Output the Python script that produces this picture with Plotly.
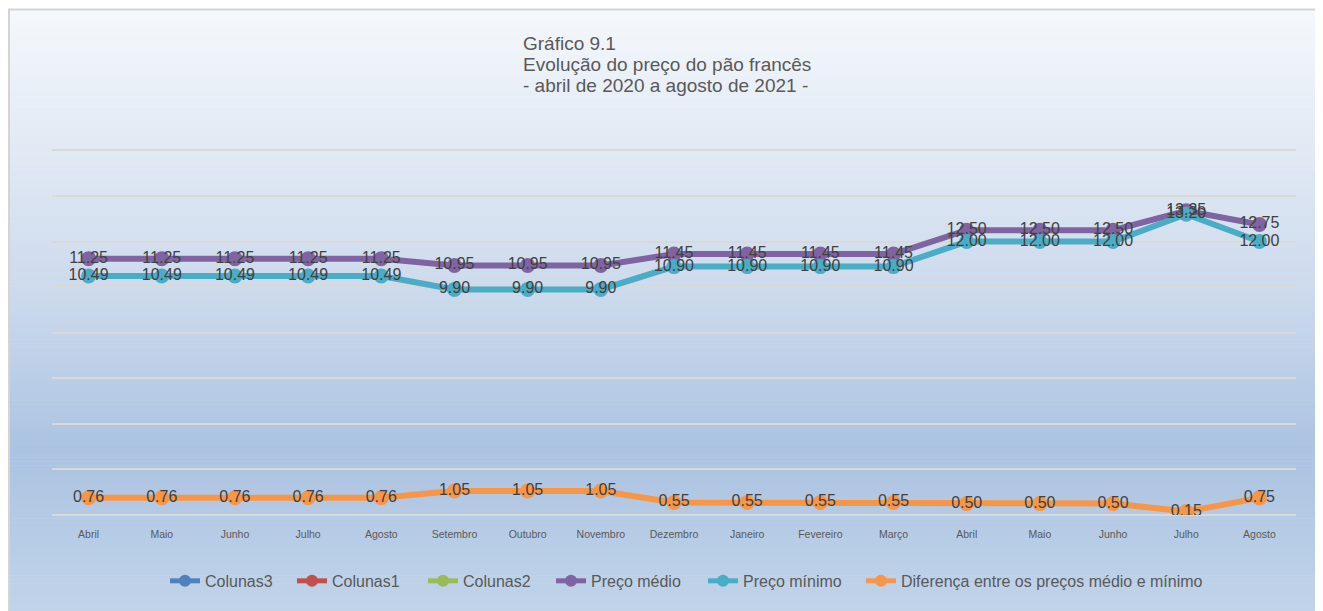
import plotly.graph_objects as go

# ---- data ----
months = ["Abril", "Maio", "Junho", "Julho", "Agosto", "Setembro", "Outubro",
          "Novembro", "Dezembro", "Janeiro", "Fevereiro", "Março", "Abril",
          "Maio", "Junho", "Julho", "Agosto"]
preco_medio = [11.25, 11.25, 11.25, 11.25, 11.25, 10.95, 10.95, 10.95,
               11.45, 11.45, 11.45, 11.45, 12.50, 12.50, 12.50, 13.35, 12.75]
preco_minimo = [10.49, 10.49, 10.49, 10.49, 10.49, 9.90, 9.90, 9.90,
                10.90, 10.90, 10.90, 10.90, 12.00, 12.00, 12.00, 13.20, 12.00]
diferenca = [0.76, 0.76, 0.76, 0.76, 0.76, 1.05, 1.05, 1.05,
             0.55, 0.55, 0.55, 0.55, 0.50, 0.50, 0.50, 0.15, 0.75]
title_lines = ["Gráfico 9.1", "Evolução do preço do pão francês",
               "- abril de 2020 a agosto de 2021 -"]

# ---- layout geometry (screen px; page body has an 8px margin) ----
OFF = 8
W, H = 1323, 611
YMAX = 16.5
PLOT_L, PLOT_R, PLOT_B = 52, 1296, 515
PLOT_T = PLOT_B - (PLOT_B - 150) * YMAX / 16.0
L = PLOT_L - OFF
R = W - (PLOT_R - OFF)
T = PLOT_T - OFF
B = H - (PLOT_B - OFF)
PW, PH = W - L - R, H - T - B


def px_x(px):
    return (px - OFF - L) / PW


def px_y(py):
    return (H - B - (py - OFF)) / PH


x = list(range(len(months)))

C_PURPLE = "#8064a2"
C_TEAL = "#4bacc6"
C_ORANGE = "#f79646"
TXT = "#404040"
FONT = "Arial, Liberation Sans"

fig = go.Figure()

legend_ids = ["legend", "legend2", "legend3", "legend4", "legend5", "legend6"]
legend_left_px = [170, 297, 428, 556, 708, 866]

# empty legend-only series
empty = [("Colunas3", "#4f81bd"), ("Colunas1", "#c0504d"), ("Colunas2", "#9bbb59")]
for k, (name, col) in enumerate(empty):
    fig.add_trace(go.Scatter(x=[None], y=[None], name=name, mode="lines+markers",
                             line=dict(color=col, width=7),
                             marker=dict(color=col, size=15),
                             legend=legend_ids[k]))

series = [("Preço médio", preco_medio, C_PURPLE),
          ("Preço mínimo", preco_minimo, C_TEAL),
          ("Diferença entre os preços médio e mínimo", diferenca, C_ORANGE)]

for k, (name, vals, col) in enumerate(series):
    fig.add_trace(go.Scatter(x=x, y=vals, name=name, mode="lines+markers",
                             line=dict(color=col, width=6),
                             marker=dict(color=col, size=15),
                             hoverinfo="skip", legend=legend_ids[3 + k]))

for name, vals, col in series:
    fig.add_trace(go.Scatter(x=x, y=vals, mode="text", showlegend=False,
                             text=[f"{v:.2f}" for v in vals],
                             textposition="middle center",
                             textfont=dict(family=FONT, size=16, color=TXT),
                             hoverinfo="skip"))

# ---- background gradient ----
stops = [(9, (245, 248, 252)), (150, (225, 233, 244)), (300, (203, 217, 236)),
         (450, (171, 195, 225)), (620, (194, 212, 234))]
shapes = []
n = 150
y0, y1 = 9, 620
for i in range(n):
    a = y0 + (y1 - y0) * i / n
    b = y0 + (y1 - y0) * (i + 1) / n
    m = (a + b) / 2
    for j in range(len(stops) - 1):
        if stops[j][0] <= m <= stops[j + 1][0]:
            t = (m - stops[j][0]) / (stops[j + 1][0] - stops[j][0])
            c = tuple(int(round(stops[j][1][k] + t * (stops[j + 1][1][k] - stops[j][1][k]))) for k in range(3))
            break
    shapes.append(dict(type="rect", xref="paper", yref="paper", layer="below",
                       x0=px_x(9), x1=px_x(W + 20), y0=px_y(b + 0.6), y1=px_y(a),
                       fillcolor="rgb(%d,%d,%d)" % c, line=dict(width=0)))
shapes.append(dict(type="rect", xref="paper", yref="paper", layer="below",
                   x0=px_x(9), x1=px_x(W + 20), y0=px_y(H + 20), y1=px_y(9),
                   fillcolor="rgba(0,0,0,0)", line=dict(color="#d4d4d4", width=2)))

annotations = []
for i, line in enumerate(title_lines):
    annotations.append(dict(xref="paper", yref="paper", x=px_x(521), y=px_y(43 + 21 * i),
                            xanchor="left", yanchor="middle", showarrow=False, align="left",
                            text=line,
                            font=dict(family=FONT, size=19, color="#595959")))

legend_layout = {}
for lid, lx in zip(legend_ids, legend_left_px):
    legend_layout[lid] = dict(orientation="h", x=px_x(lx - 5), xanchor="left",
                              y=px_y(581), yanchor="middle",
                              bgcolor="rgba(0,0,0,0)", borderwidth=0,
                              font=dict(family=FONT, size=16, color="#595959"),
                              itemsizing="constant")

fig.update_layout(
    width=W, height=H,
    margin=dict(l=L, r=R, t=T, b=B),
    paper_bgcolor="white",
    plot_bgcolor="rgba(0,0,0,0)",
    shapes=shapes,
    annotations=annotations,
    showlegend=True,
    xaxis=dict(range=[-0.5, len(months) - 0.5], tickmode="array", tickvals=x, ticktext=months,
               showgrid=False, zeroline=False, showline=False,
               ticks="outside", ticklen=9, tickcolor="rgba(0,0,0,0)",
               tickfont=dict(family=FONT, size=10.5, color="#595959")),
    yaxis=dict(range=[0, YMAX], tickmode="array", tickvals=list(range(0, 17, 2)),
               showticklabels=False, showgrid=True,
               gridcolor="#d9d9d9", gridwidth=2, zeroline=True, zerolinecolor="#d9d9d9",
               zerolinewidth=2, showline=False),
    **legend_layout,
)

fig.write_html("out.html")
